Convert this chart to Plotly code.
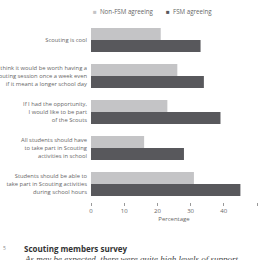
import plotly.graph_objects as go

categories = [
    "Scouting is cool",
    "I think it would be worth having a<br>Scouting session once a week even<br>if it meant a longer school day",
    "If I had the opportunity,<br>I would like to be part<br>of the Scouts",
    "All students should have<br>to take part in Scouting<br>activities in school",
    "Students should be able to<br>take part in Scouting activities<br>during school hours",
]
series_names = ["Non-FSM agreeing", "FSM agreeing"]
non_fsm = [21, 26, 23, 16, 31]
fsm = [33, 34, 39, 28, 45]
x_ticks = [0, 10, 20, 30, 40, 50]

LIGHT = "#c4c4c6"
DARK = "#58585c"
TXT = "#666666"
FONT = "Open Sans"

W, H = 260, 260
L, R, T, B = 91, 3, 22, 58
pw = W - L - R
ph = H - T - B

def px(x):
    return (x - L) / pw

def py(y):
    return 1 - (y - T) / ph

fig = go.Figure()
fig.add_trace(go.Bar(y=categories, x=non_fsm, orientation="h", name=series_names[0],
                     marker=dict(color=LIGHT, line=dict(width=0)), showlegend=False))
fig.add_trace(go.Bar(y=categories, x=fsm, orientation="h", name=series_names[1],
                     marker=dict(color=DARK, line=dict(width=0)), showlegend=False))

fig.update_layout(
    width=W, height=H,
    margin=dict(l=L, r=R, t=T, b=B, pad=0),
    paper_bgcolor="white", plot_bgcolor="white",
    barmode="group", bargap=1/3, bargroupgap=0,
    font=dict(family=FONT, color=TXT, size=6),
    xaxis=dict(range=[0, 50], tickvals=x_ticks, showgrid=False, zeroline=False,
               showline=False, ticks="outside", ticklen=3, tickwidth=0.8, tickcolor="#999",
               tickfont=dict(size=6, color=TXT), automargin=False,
               title=dict(text="Percentage", font=dict(size=6, color=TXT), standoff=2)),
    yaxis=dict(autorange="reversed", showgrid=False, zeroline=False, showline=False,
               ticks="", tickfont=dict(size=5.8, color=TXT), automargin=False,
               ticklabelstandoff=3),
)

# legend drawn as text annotations
fig.add_annotation(xref="paper", yref="paper", x=px(91), y=py(11.5), xanchor="left", yanchor="middle",
                   text=f"<span style='color:{LIGHT}'>■</span>  {series_names[0]}", showarrow=False,
                   font=dict(size=6.2, color=TXT, family=FONT))
fig.add_annotation(xref="paper", yref="paper", x=px(164), y=py(11.5), xanchor="left", yanchor="middle",
                   text=f"<span style='color:{DARK}'>■</span>  {series_names[1]}", showarrow=False,
                   font=dict(size=6.2, color=TXT, family=FONT))

# text below chart (page context)
fig.add_annotation(xref="paper", yref="paper", x=px(1), y=py(248), xanchor="left", yanchor="middle",
                   text="5", showarrow=False, font=dict(size=5, color="#888", family=FONT))
fig.add_annotation(xref="paper", yref="paper", x=px(22), y=py(248.5), xanchor="left", yanchor="middle",
                   text="<b>Scouting members survey</b>", showarrow=False,
                   font=dict(size=8, color="#333", family=FONT))
fig.add_annotation(xref="paper", yref="paper", x=px(22), y=py(259), xanchor="left", yanchor="middle",
                   text="<i>As may be expected, there were quite high levels of support</i>", showarrow=False,
                   font=dict(size=9, color="#444", family="Liberation Serif"))

fig.write_html("out.html")
